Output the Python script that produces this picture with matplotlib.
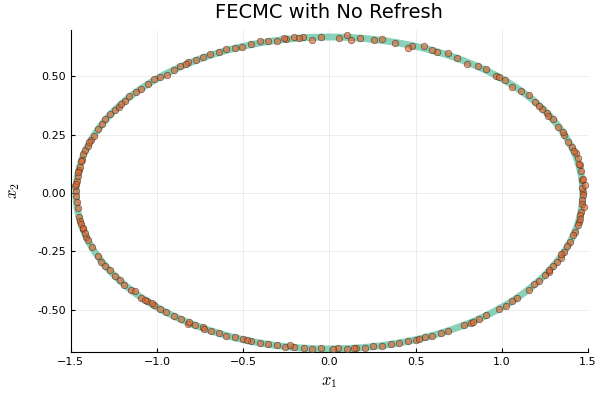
import matplotlib
matplotlib.use("Agg")
import matplotlib.pyplot as plt
from matplotlib.patches import Ellipse

plt.rcParams['mathtext.fontset'] = 'cm'

# semi-axes of the energy contour
A = 1.47
B = 0.667

x1_q1 = [1.472, 1.466, 1.480, 1.463, 1.458, 1.452, 1.440, 1.428, 1.407, 1.385, 1.360, 1.356,
         1.324, 1.296, 1.262, 1.232, 1.192, 1.155, 1.110, 1.060, 1.018, 0.966, 0.908, 0.862,
         0.800, 0.738, 0.688, 0.622, 0.548, 0.480, 0.457, 0.380, 0.303, 0.258, 0.180, 0.100,
         0.055, 1.445, 1.214, 0.985, 0.596, 0.128, 1.470, 1.418, 1.270]
x2_q1 = [0.004, 0.021, 0.036, 0.057, 0.092, 0.118, 0.150, 0.170, 0.196, 0.220, 0.247, 0.262,
         0.282, 0.316, 0.342, 0.358, 0.389, 0.420, 0.436, 0.452, 0.483, 0.502, 0.530, 0.543,
         0.552, 0.576, 0.598, 0.603, 0.628, 0.629, 0.622, 0.643, 0.660, 0.655, 0.662, 0.675,
         0.664, 0.124, 0.372, 0.494, 0.611, 0.656, 0.060, 0.181, 0.330]

x1_q2 = [-1.469, -1.478, -1.464, -1.461, -1.454, -1.447, -1.436, -1.430, -1.418, -1.400, -1.383,
         -1.366, -1.340, -1.318, -1.300, -1.270, -1.246, -1.218, -1.186, -1.160, -1.124, -1.094,
         -1.055, -1.020, -0.982, -0.944, -0.903, -0.866, -0.820, -0.776, -0.733, -0.692, -0.640,
         -0.597, -0.550, -0.505, -0.452, -0.404, -0.358, -0.305, -0.253, -0.204, -0.152, -0.101,
         -0.050, -1.440, -1.458, -1.210, -0.830, -0.266, -0.178, -1.472, -1.395]
x2_q2 = [0.008, 0.028, 0.050, 0.074, 0.099, 0.112, 0.143, 0.166, 0.185, 0.203, 0.225,
         0.245, 0.274, 0.296, 0.318, 0.336, 0.355, 0.368, 0.394, 0.414, 0.431, 0.444,
         0.465, 0.486, 0.498, 0.505, 0.524, 0.541, 0.562, 0.567, 0.580, 0.594, 0.602,
         0.614, 0.620, 0.625, 0.636, 0.648, 0.648, 0.650, 0.659, 0.668, 0.665, 0.656,
         0.668, 0.135, 0.090, 0.380, 0.552, 0.662, 0.662, 0.040, 0.220]

x1_q3 = [-1.472, -1.466, -1.460, -1.452, -1.448, -1.440, -1.428, -1.410, -1.398, -1.378, -1.344,
         -1.322, -1.300, -1.273, -1.244, -1.216, -1.190, -1.150, -1.126, -1.092, -1.060, -1.018,
         -0.984, -0.946, -0.902, -0.860, -0.823, -0.780, -0.736, -0.688, -0.642, -0.600, -0.548,
         -0.500, -0.456, -0.404, -0.356, -0.302, -0.255, -0.205, -0.150, -0.103, -0.048,
         -1.432, -1.070, -0.815, -0.730, -0.480, -0.230, -1.420, -1.030]
x2_q3 = [-0.012, -0.040, -0.064, -0.102, -0.118, -0.131, -0.156, -0.190, -0.200, -0.233, -0.268,
         -0.293, -0.314, -0.330, -0.356, -0.372, -0.393, -0.413, -0.418, -0.447, -0.463, -0.478,
         -0.497, -0.509, -0.527, -0.537, -0.560, -0.565, -0.572, -0.590, -0.598, -0.611, -0.617,
         -0.626, -0.634, -0.642, -0.646, -0.652, -0.659, -0.660, -0.662, -0.666, -0.665,
         -0.150, -0.456, -0.552, -0.583, -0.630, -0.650, -0.170, -0.470]

x1_q4 = [1.471, 1.468, 1.465, 1.460, 1.456, 1.447, 1.440, 1.424, 1.412, 1.396, 1.380, 1.362,
         1.341, 1.320, 1.296, 1.272, 1.248, 1.218, 1.186, 1.158, 1.090, 1.058, 1.022, 0.982,
         0.908, 0.866, 0.822, 0.780, 0.690, 0.645, 0.598, 0.552, 0.504, 0.455, 0.406, 0.357,
         0.305, 0.254, 0.206, 0.153, 0.102, 0.050, 1.452, 1.275, 0.832, 0.520, 0.140, 0.018,
         1.478, 1.345]
x2_q4 = [-0.010, -0.030, -0.048, -0.080, -0.095, -0.122, -0.136, -0.165, -0.181, -0.209, -0.226, -0.253,
         -0.280, -0.294, -0.311, -0.336, -0.350, -0.376, -0.390, -0.413, -0.448, -0.460, -0.482, -0.497,
         -0.523, -0.540, -0.556, -0.564, -0.590, -0.598, -0.610, -0.617, -0.628, -0.633, -0.642, -0.645,
         -0.655, -0.656, -0.662, -0.661, -0.666, -0.664, -0.110, -0.330, -0.552, -0.624, -0.664, -0.668,
         -0.060, -0.262]

x1 = x1_q1 + x1_q2 + x1_q3 + x1_q4
x2 = x2_q1 + x2_q2 + x2_q3 + x2_q4

fig = plt.figure(figsize=(6, 4), dpi=100)
ax = fig.add_axes([0.118, 0.12, 0.862, 0.805])

ax.add_patch(Ellipse((0, 0), 2 * A, 2 * B, fill=False, edgecolor='#74c9ad',
                     linewidth=5, alpha=0.85, zorder=2))
ax.scatter(x1, x2, s=22, color='#e8612c', alpha=0.62, edgecolors='#2a2018',
           linewidths=0.5, zorder=3)

ax.set_xlim(-1.5, 1.5)
ax.set_ylim(-0.68, 0.697)
ax.set_xticks([-1.5, -1.0, -0.5, 0.0, 0.5, 1.0, 1.5])
ax.set_yticks([-0.5, -0.25, 0.0, 0.25, 0.5])
ax.set_yticklabels(['-0.50', '-0.25', '0.00', '0.25', '0.50'])
ax.tick_params(direction='in', length=3, labelsize=8, colors='black')
ax.grid(True, color='black', alpha=0.08, linewidth=0.6)
ax.spines['top'].set_visible(False)
ax.spines['right'].set_visible(False)

ax.set_xlabel('$x_1$', fontsize=12, labelpad=4)
ax.set_ylabel('$x_2$', fontsize=12, labelpad=11)
ax.set_title('FECMC with No Refresh', fontsize=14, pad=9)

fig.savefig('out.png', dpi=100)
